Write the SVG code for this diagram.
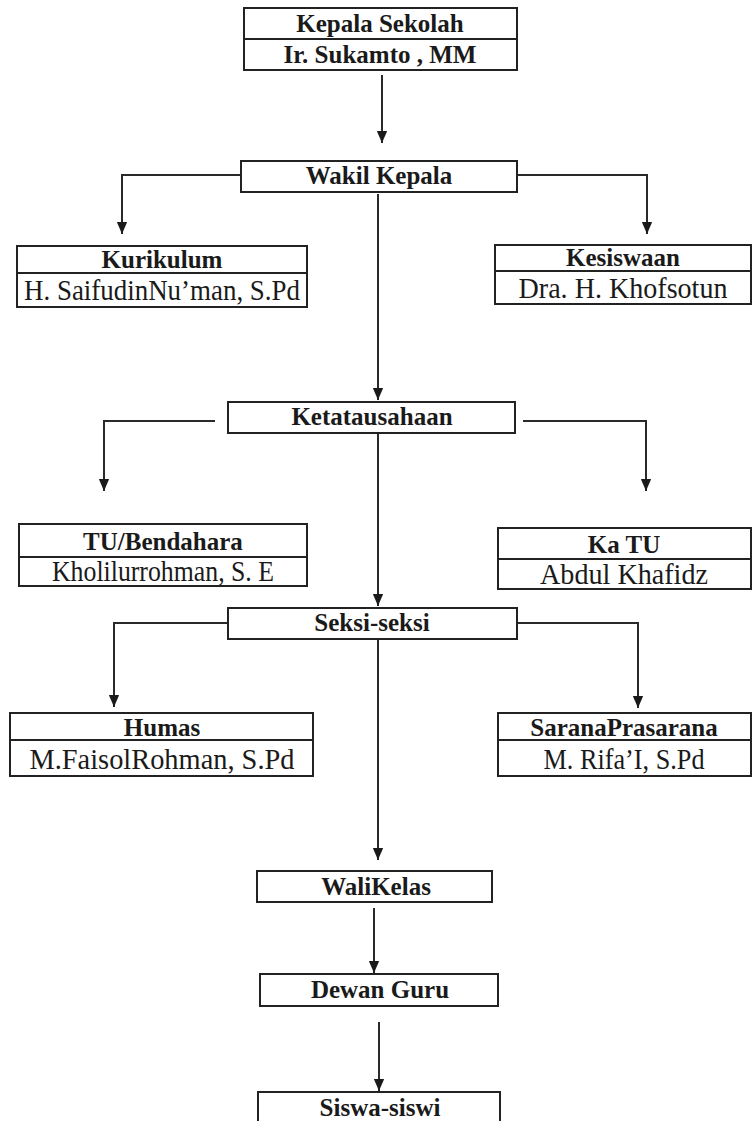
<svg xmlns="http://www.w3.org/2000/svg" width="753" height="1121" viewBox="0 0 753 1121">
<defs>
<style>
.box{fill:#fff;stroke:#222;stroke-width:2}
.ln{fill:none;stroke:#2a2a2a;stroke-width:2}
.t{font-family:"Liberation Serif","Times New Roman",serif;font-weight:bold;font-size:25px;text-anchor:middle;fill:#1a1a1a}
.s{font-family:"Liberation Serif","Times New Roman",serif;font-size:30px;text-anchor:middle;fill:#1a1a1a}
</style>
<marker id="ah" markerUnits="userSpaceOnUse" markerWidth="12" markerHeight="14" viewBox="0 0 12 14" refX="6" refY="14" orient="auto-start-reverse">
<path d="M0,0 L12,0 L6,14 Z" fill="#1a1a1a" transform="rotate(-90 6 7)"/>
</marker>
<marker id="a" markerUnits="userSpaceOnUse" markerWidth="12" markerHeight="14" viewBox="0 0 14 12" refX="14" refY="6" orient="auto">
<path d="M0,0 L14,6 L0,12 Z" fill="#1a1a1a"/>
</marker>
</defs>
<rect width="753" height="1121" fill="#fff"/>
<g id="connectors">
<path class="ln" d="M382,75 V143" marker-end="url(#a)"/>
<path class="ln" d="M240,175 H122 V234" marker-end="url(#a)"/>
<path class="ln" d="M516,175 H647 V234" marker-end="url(#a)"/>
<path class="ln" d="M378,194 V400" marker-end="url(#a)"/>
<path class="ln" d="M215,421 H104 V491" marker-end="url(#a)"/>
<path class="ln" d="M523,421 H646 V491" marker-end="url(#a)"/>
<path class="ln" d="M378,434 V606" marker-end="url(#a)"/>
<path class="ln" d="M228,623 H114 V707" marker-end="url(#a)"/>
<path class="ln" d="M517,623 H638 V708" marker-end="url(#a)"/>
<path class="ln" d="M378,640 V860" marker-end="url(#a)"/>
<path class="ln" d="M374,908 V973" marker-end="url(#a)"/>
<path class="ln" d="M379,1022 V1091" marker-end="url(#a)"/>
</g>
<g id="kepala-sekolah">
<rect class="box" x="244" y="8" width="273" height="62"/>
<line class="box" x1="244" y1="39" x2="517" y2="39"/>
<text class="t" x="380" y="32">Kepala Sekolah</text>
<text class="t" x="380" y="63">Ir. Sukamto , MM</text>
</g>
<g id="wakil-kepala">
<rect class="box" x="241" y="161" width="276" height="31"/>
<text class="t" x="379" y="184">Wakil Kepala</text>
</g>
<g id="kurikulum">
<rect class="box" x="17" y="246" width="290" height="61"/>
<line class="box" x1="17" y1="273" x2="307" y2="273"/>
<text class="t" x="162" y="268">Kurikulum</text>
<text class="s" x="162" y="300" textLength="276" lengthAdjust="spacingAndGlyphs">H. SaifudinNu’man, S.Pd</text>
</g>
<g id="kesiswaan">
<rect class="box" x="495" y="245" width="256" height="59"/>
<line class="box" x1="495" y1="271" x2="751" y2="271"/>
<text class="t" x="623" y="266">Kesiswaan</text>
<text class="s" x="623" y="298" textLength="209" lengthAdjust="spacingAndGlyphs">Dra. H. Khofsotun</text>
</g>
<g id="ketatausahaan">
<rect class="box" x="228" y="402" width="287" height="31"/>
<text class="t" x="372" y="425">Ketatausahaan</text>
</g>
<g id="tu-bendahara">
<rect class="box" x="19" y="524" width="288" height="62"/>
<line class="box" x1="19" y1="557" x2="307" y2="557"/>
<text class="t" x="163" y="550">TU/Bendahara</text>
<text class="s" x="163" y="581" textLength="222" lengthAdjust="spacingAndGlyphs">Kholilurrohman, S. E</text>
</g>
<g id="ka-tu">
<rect class="box" x="498" y="528" width="253" height="61"/>
<line class="box" x1="498" y1="559" x2="751" y2="559"/>
<text class="t" x="624" y="553">Ka TU</text>
<text class="s" x="624" y="584" textLength="168" lengthAdjust="spacingAndGlyphs">Abdul Khafidz</text>
</g>
<g id="seksi-seksi">
<rect class="box" x="228" y="608" width="289" height="31"/>
<text class="t" x="372" y="631">Seksi-seksi</text>
</g>
<g id="humas">
<rect class="box" x="10" y="713" width="303" height="63"/>
<line class="box" x1="10" y1="740" x2="313" y2="740"/>
<text class="t" x="162" y="736">Humas</text>
<text class="s" x="162" y="769" textLength="265" lengthAdjust="spacingAndGlyphs">M.FaisolRohman, S.Pd</text>
</g>
<g id="sarana-prasarana">
<rect class="box" x="498" y="713" width="253" height="63"/>
<line class="box" x1="498" y1="740" x2="751" y2="740"/>
<text class="t" x="624" y="736">SaranaPrasarana</text>
<text class="s" x="624" y="769" textLength="161" lengthAdjust="spacingAndGlyphs">M. Rifa’I, S.Pd</text>
</g>
<g id="wali-kelas">
<rect class="box" x="257" y="871" width="235" height="31"/>
<text class="t" x="376" y="895">WaliKelas</text>
</g>
<g id="dewan-guru">
<rect class="box" x="260" y="974" width="238" height="32"/>
<text class="t" x="380" y="998">Dewan Guru</text>
</g>
<g id="siswa-siswi">
<rect class="box" x="258" y="1092" width="242" height="40"/>
<text class="t" x="380" y="1116">Siswa-siswi</text>
</g>
</svg>
